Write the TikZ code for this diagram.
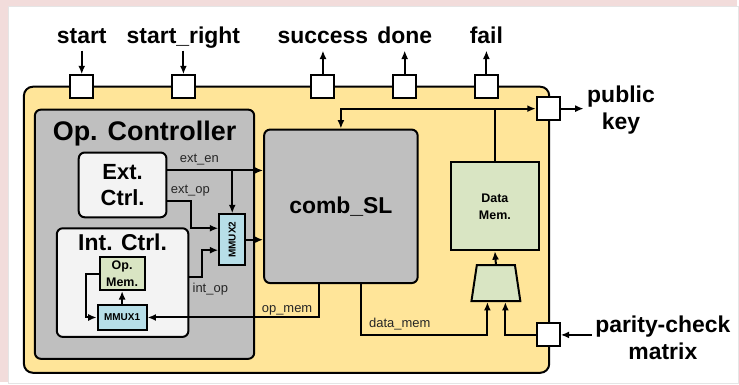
\documentclass[tikz,border=0pt]{standalone}
\usepackage{fontspec}
\setmainfont{Liberation Sans}
\usetikzlibrary{arrows.meta,shapes.geometric}
\definecolor{bgpink}{HTML}{F2DCDB}
\definecolor{chipyellow}{HTML}{FFE599}
\definecolor{ctrlgray}{HTML}{BFBFBF}
\definecolor{boxwhite}{HTML}{F3F3F3}
\definecolor{memgreen}{HTML}{D9E5C3}
\definecolor{muxblue}{HTML}{B7DEE8}
\newcommand{\pinfont}{\fontsize{23}{27}\selectfont\bfseries}
\newcommand{\smallbf}{\fontsize{12.5}{17}\selectfont\bfseries}

\begin{document}
\begin{tikzpicture}[x=1pt, y=-1pt, >={Latex[length=8.5pt,width=7pt]},
  blk/.style={draw, line width=2pt, rounded corners=6pt, inner sep=0pt, align=center},
  sqblk/.style={blk, rounded corners=0pt},
  port/.style={draw, line width=2pt, fill=white, minimum size=23pt, inner sep=0pt},
  wire/.style={line width=2pt, ->},
  pin/.style={font=\pinfont, inner sep=2pt, text height=16pt, text depth=5pt},
  sig/.style={font=\fontsize{13}{13}\selectfont, text=black!85, inner sep=0pt}]
\fill[bgpink] (0,0) rectangle (739,383);
\filldraw[fill=white, draw=black!10, line width=0.8pt] (8,6) rectangle (741,385);
\node[blk, fill=chipyellow, rounded corners=9pt, minimum width=527pt, minimum height=287pt] (chip) at (287.5,230.5) {};
\node[blk, fill=ctrlgray, minimum width=220pt, minimum height=250pt] (ctrl) at (145,235) {};
\node[font=\fontsize{27}{27}\selectfont\bfseries] (ctrltitle) at (145,134) {Op. Controller};
\node[blk, fill=boxwhite, minimum width=88pt, minimum height=65pt, font=\fontsize{22}{26}\selectfont\bfseries] (ext) at (123,185.5) {Ext.\\Ctrl.};
\node[blk, fill=boxwhite, minimum width=132pt, minimum height=109pt] (int) at (123,283.5) {};
\node[font=\fontsize{23}{23}\selectfont\bfseries] (inttitle) at (123,243) {Int. Ctrl.};
\node[sqblk, fill=memgreen, minimum width=45pt, minimum height=33pt, font=\smallbf] (opmem) at (122.5,274.5) {Op.\\Mem.};
\node[sqblk, fill=muxblue, minimum width=49pt, minimum height=25pt, font=\fontsize{10}{10}\selectfont\bfseries] (mmux1) at (122.5,318.5) {MMUX1};
\node[sqblk, fill=muxblue, minimum width=26pt, minimum height=51pt] (mmux2) at (233,240.5) {};
\node[rotate=90, font=\fontsize{10}{10}\selectfont\bfseries] (mmux2txt) at (mmux2) {MMUX2};
\node[blk, fill=ctrlgray, minimum width=154pt, minimum height=154pt, font=\pinfont] (comb) at (342,207) {comb\_SL};
\node[sqblk, fill=memgreen, minimum width=89pt, minimum height=88pt, font=\smallbf] (datamem) at (496.5,207) {Data\\Mem.};
\node[draw, line width=2pt, fill=memgreen, trapezium, trapezium stretches=true, trapezium left angle=82, trapezium right angle=82, minimum width=49pt, minimum height=36pt] (mux) at (497.5,284) {};
\node[port] (pstart) at (82,87) {};
\node[port] (psright) at (184,87) {};
\node[port] (psuccess) at (324,87) {};
\node[port] (pdone) at (406,87) {};
\node[port] (pfail) at (488,87) {};
\node[port] (ppub) at (550,109) {};
\node[port] (ppcm) at (550,336) {};
\node[pin] (lstart) at (82,38) {start};
\node[pin] (lsright) at (184,38) {start\_right};
\node[pin] (lsuccess) at (324,38) {success};
\node[pin] (ldone) at (406,38) {done};
\node[pin] (lfail) at (488,38) {fail};
\node[font=\pinfont, align=center] (lpub) at (623,110) {public\\key};
\node[font=\pinfont, align=center] (lpcm) at (665,339) {parity-check\\matrix};
\draw[wire] (lstart) -- (pstart);
\draw[wire] (lsright) -- (psright);
\draw[wire] (psuccess) -- (lsuccess);
\draw[wire] (pdone) -- (ldone);
\draw[wire] (pfail) -- (lfail);
\draw[wire] (ppub.east) -- (ppub.east -| lpub.west);
\draw[wire] (lpcm.west |- ppcm) -- (ppcm.east);
\draw[wire, <->] (comb.north) |- (ppub.west);
\draw[line width=2pt] (datamem.north) -- (datamem.north |- ppub);
\draw[wire] (mux.north) -- (datamem.south);
\draw[wire] (ppcm.west) -| (mux.south -| 507,0);
\draw[wire] (comb.south -| 362,0) |- (489,336) -- (mux.south -| 489,0);
\draw[wire] (comb.south -| 320,0) |- (mmux1.east);
\draw[wire] (ext.east |- 0,171) -- (comb.west |- 0,171);
\draw[wire] (mmux2.north |- 0,171) -- (mmux2.north);
\draw[wire] (ext.east |- 0,202) -- (192,202) |- (mmux2.west |- 0,229);
\draw[wire] (int.east |- 0,278) -- (203,278) |- (mmux2.west |- 0,251);
\draw[wire] (mmux2.east) -- (comb.west |- mmux2.east);
\draw[wire] (mmux1.north) -- (opmem.south);
\draw[wire] (opmem.west) -- ++(-13,0) |- (mmux1.west);
\node[sig] (len) at (200,160) {ext\_en};
\node[sig] (lextop) at (191,191) {ext\_op};
\node[sig] (lintop) at (211,290) {int\_op};
\node[sig] (lopmem) at (288,311) {op\_mem};
\node[sig] (ldatamem) at (401,325) {data\_mem};
\end{tikzpicture}
\end{document}
